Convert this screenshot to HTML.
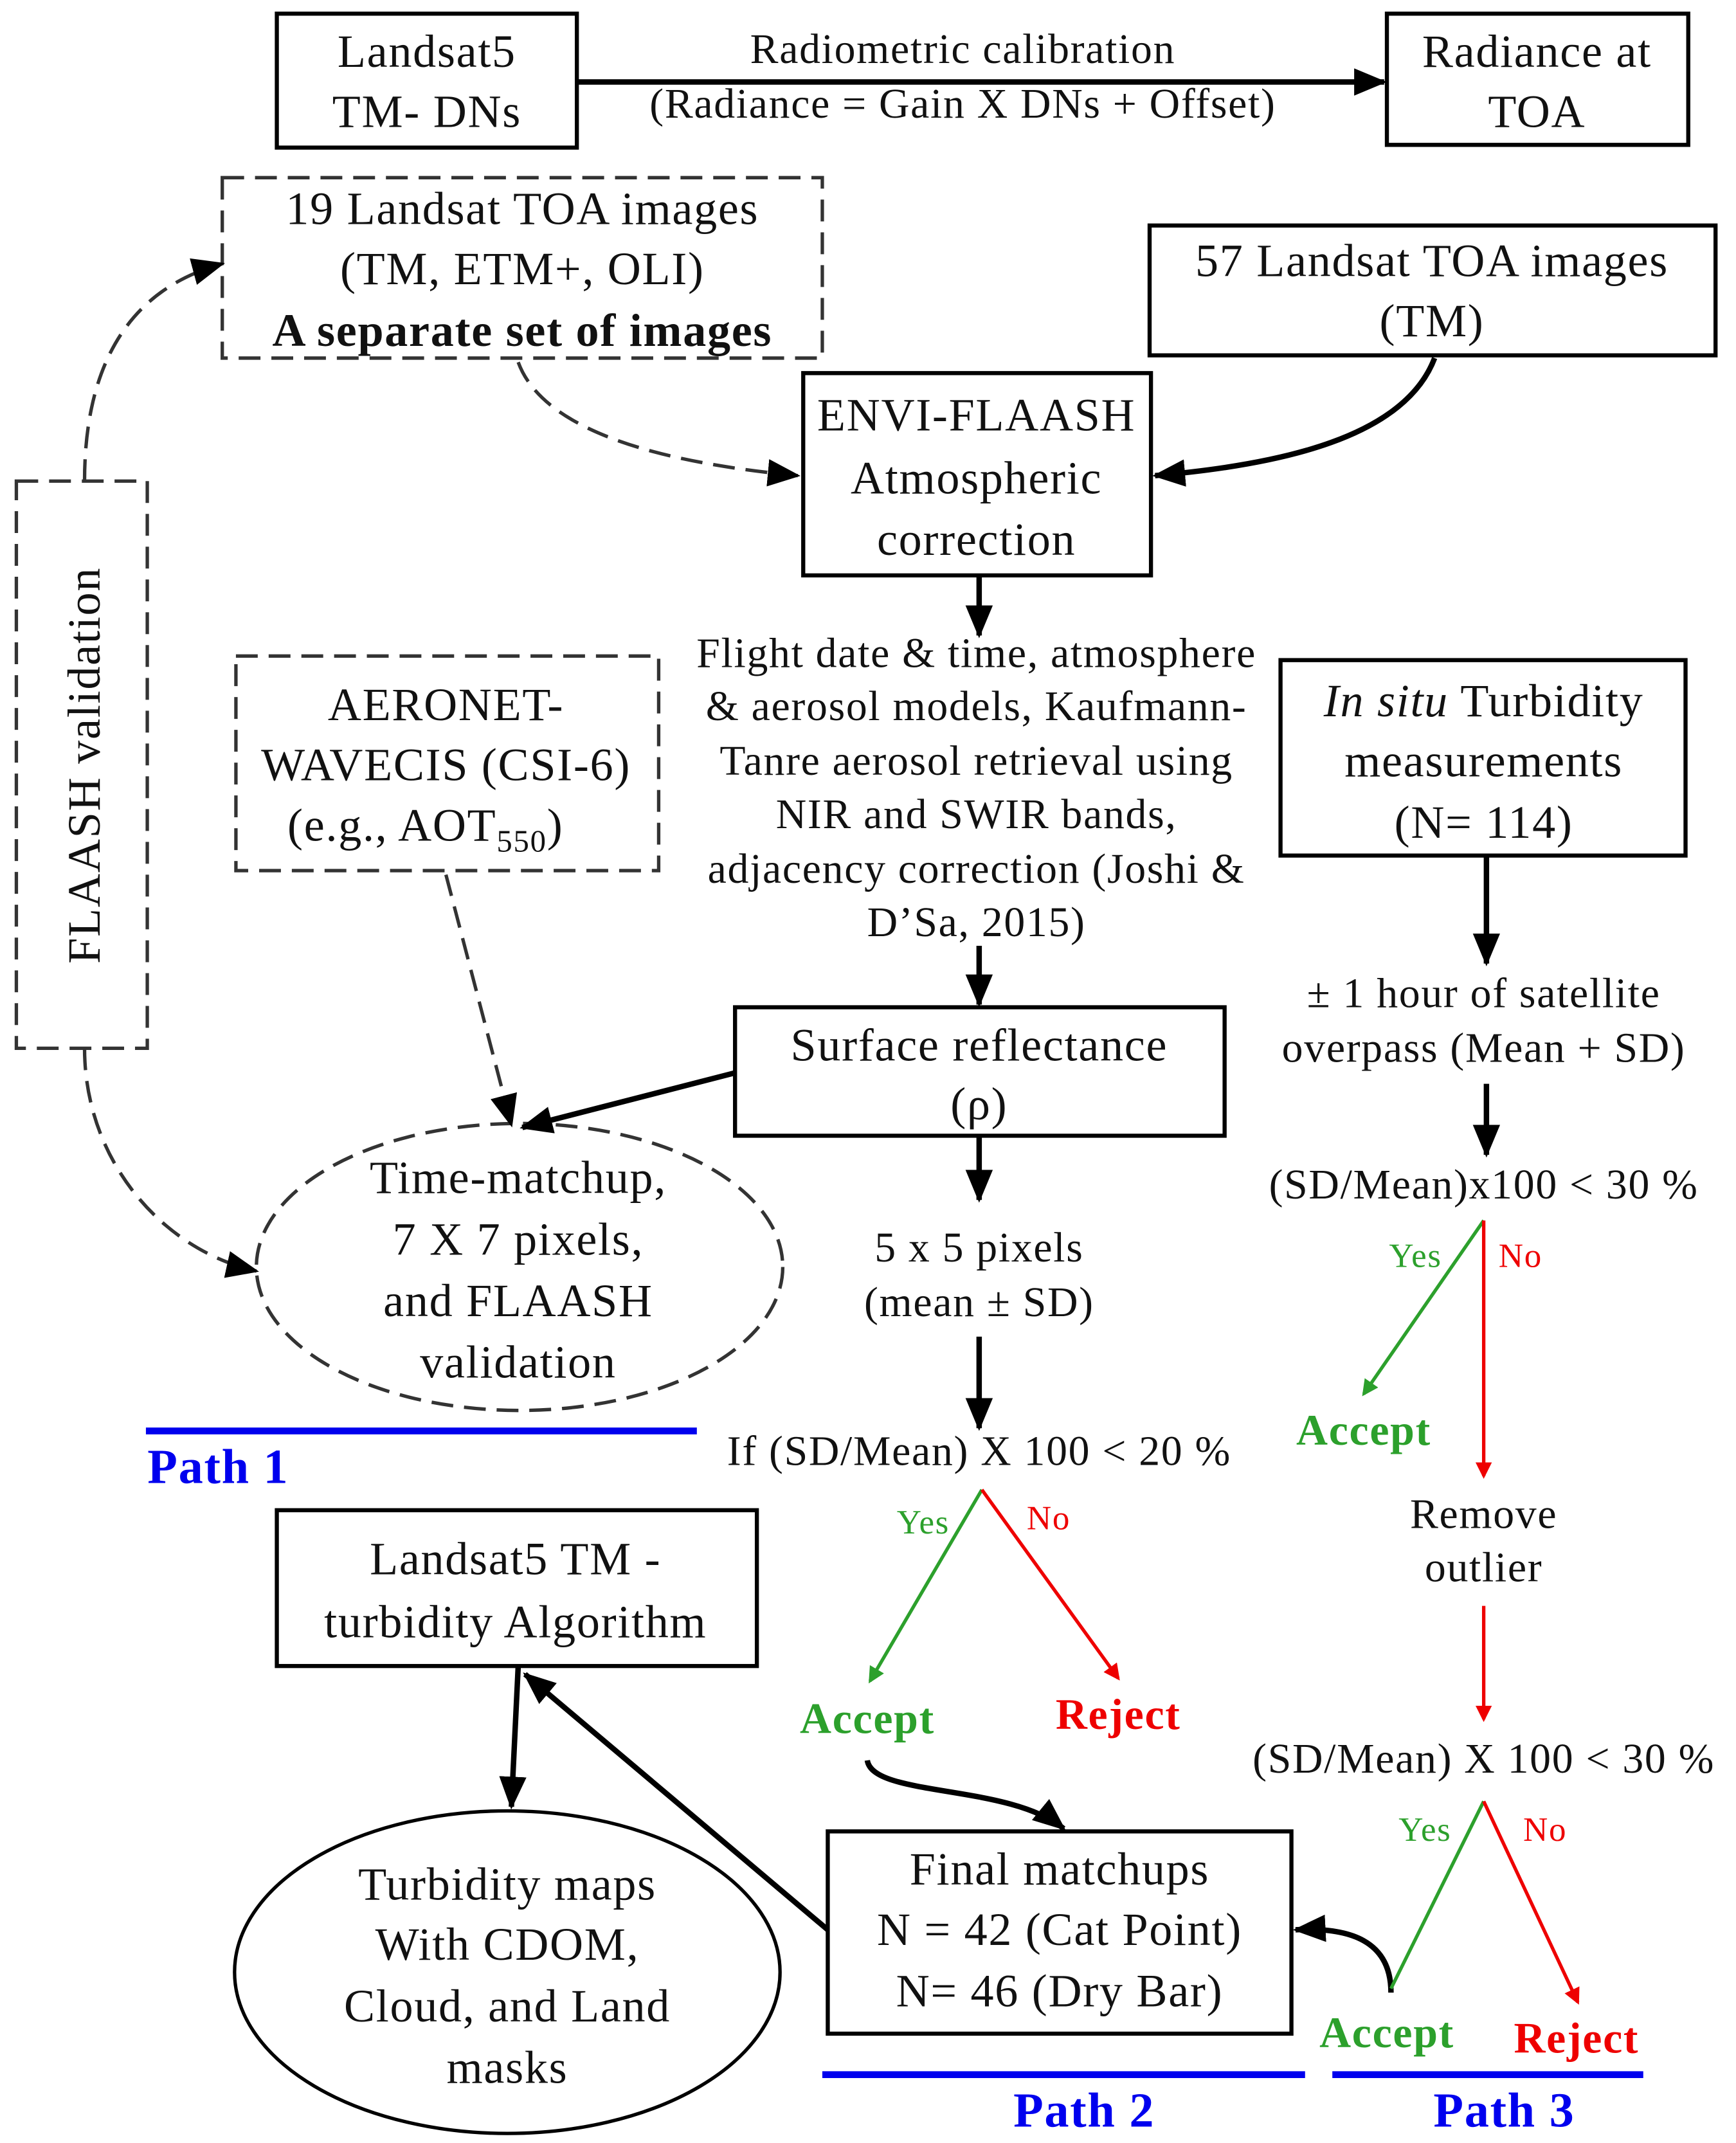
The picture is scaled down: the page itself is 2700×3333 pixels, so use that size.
<!DOCTYPE html>
<html><head><meta charset="utf-8"><style>
html,body{margin:0;padding:0;background:#fff;}
svg{display:block;}
text{font-family:"Liberation Serif",serif;fill:#111;letter-spacing:0.8px;}
</style></head><body>
<svg width="2700" height="3333" viewBox="0 0 1273 1568" preserveAspectRatio="none" xmlns="http://www.w3.org/2000/svg">
<defs>
<marker id="akb" markerWidth="24" markerHeight="20" refX="22" refY="10" orient="auto" markerUnits="userSpaceOnUse"><path d="M0,0 L24,10 L0,20 z" fill="#000"/></marker>
<marker id="ag" markerWidth="12" markerHeight="12" refX="10" refY="6" orient="auto" markerUnits="userSpaceOnUse"><path d="M0,0 L12,6 L0,12 z" fill="#2ca02c"/></marker>
<marker id="ar" markerWidth="12" markerHeight="12" refX="10" refY="6" orient="auto" markerUnits="userSpaceOnUse"><path d="M0,0 L12,6 L0,12 z" fill="#e00"/></marker>
</defs>
<g fill="none" stroke="#000" stroke-width="3">
<rect x="203" y="10" width="220" height="98"/>
<rect x="1017" y="10" width="221" height="96"/>
<rect x="843" y="165" width="415" height="95"/>
<rect x="589" y="273" width="255" height="148"/>
<rect x="539" y="737" width="359" height="94"/>
<rect x="607" y="1340" width="340" height="148"/>
<rect x="939" y="483" width="297" height="143"/>
<rect x="203" y="1105" width="352" height="114"/>
<ellipse cx="372" cy="1443" rx="200" ry="118" stroke-width="2.5"/>
</g>
<g fill="none" stroke="#333" stroke-width="2.5" stroke-dasharray="16,8">
<rect x="163" y="130" width="440" height="132"/>
<rect x="173" y="480" width="310" height="157"/>
<rect x="12" y="352" width="96" height="415"/>
<ellipse cx="381" cy="927" rx="193" ry="105"/>
<path d="M380,265 C400,320 500,340 585,348" marker-end="url(#akb)"/>
<path d="M327,640 L375,823" marker-end="url(#akb)"/>
<path d="M62,352 C62,260 100,210 163,193" marker-end="url(#akb)"/>
<path d="M62,767 C62,850 120,915 188,930" marker-end="url(#akb)"/>
</g>
<g fill="none" stroke="#000" stroke-width="4">
<line x1="423" y1="60" x2="1015" y2="60" marker-end="url(#akb)"/>
<path d="M1052,262 C1030,320 940,340 847,348" marker-end="url(#akb)"/>
<line x1="718" y1="421" x2="718" y2="465" marker-end="url(#akb)"/>
<line x1="718" y1="692" x2="718" y2="735" marker-end="url(#akb)"/>
<line x1="539" y1="785" x2="383" y2="825" marker-end="url(#akb)"/>
<line x1="718" y1="831" x2="718" y2="878" marker-end="url(#akb)"/>
<line x1="718" y1="978" x2="718" y2="1045" marker-end="url(#akb)"/>
<path d="M636,1288 C640,1315 740,1305 780,1338" marker-end="url(#akb)"/>
<line x1="380" y1="1219" x2="375" y2="1322" marker-end="url(#akb)"/>
<line x1="607" y1="1412" x2="385" y2="1225" marker-end="url(#akb)"/>
<line x1="1090" y1="626" x2="1090" y2="705" marker-end="url(#akb)"/>
<line x1="1090" y1="793" x2="1090" y2="845" marker-end="url(#akb)"/>
<path d="M1020,1458 C1020,1420 990,1410 950,1412" marker-end="url(#akb)"/>
</g>
<g fill="none" stroke-width="2.5">
<line x1="720" y1="1090" x2="638" y2="1230" stroke="#2ca02c" marker-end="url(#ag)"/>
<line x1="720" y1="1090" x2="820" y2="1228" stroke="#e00" marker-end="url(#ar)"/>
<line x1="1088" y1="893" x2="1000" y2="1020" stroke="#2ca02c" marker-end="url(#ag)"/>
<line x1="1088" y1="893" x2="1088" y2="1080" stroke="#e00" marker-end="url(#ar)"/>
<line x1="1088" y1="1175" x2="1088" y2="1258" stroke="#e00" marker-end="url(#ar)"/>
<line x1="1088" y1="1318" x2="1020" y2="1455" stroke="#2ca02c"/>
<line x1="1088" y1="1318" x2="1157" y2="1465" stroke="#e00" marker-end="url(#ar)"/>
</g>
<g stroke="#0000ee" stroke-width="5">
<line x1="107" y1="1047" x2="511" y2="1047"/>
<line x1="603" y1="1518" x2="957" y2="1518"/>
<line x1="977" y1="1518" x2="1205" y2="1518"/>
</g>
<g text-anchor="middle" font-size="34">
<text x="313" y="49">Landsat5</text><text x="313" y="93">TM- DNs</text>
<text x="1127" y="49">Radiance at</text><text x="1127" y="93">TOA</text>
<text x="706" y="46" font-size="31">Radiometric calibration</text>
<text x="706" y="86" font-size="31">(Radiance = Gain X DNs + Offset)</text>
<text x="383" y="164">19 Landsat TOA images</text>
<text x="383" y="208">(TM, ETM+, OLI)</text>
<text x="383" y="253" font-weight="bold">A separate set of images</text>
<text x="1050" y="202">57 Landsat TOA images</text>
<text x="1050" y="246">(TM)</text>
<text x="716" y="315">ENVI-FLAASH</text><text x="716" y="361">Atmospheric</text><text x="716" y="406">correction</text>
<g font-size="31">
<text x="716" y="488">Flight date &amp; time, atmosphere</text>
<text x="716" y="527">&amp; aerosol models, Kaufmann-</text>
<text x="716" y="567">Tanre aerosol retrieval using</text>
<text x="716" y="606">NIR and SWIR bands,</text>
<text x="716" y="646">adjacency correction (Joshi &amp;</text>
<text x="716" y="685">D’Sa, 2015)</text>
</g>
<text x="718" y="776">Surface reflectance</text><text x="718" y="819">(ρ)</text>
<text x="718" y="923" font-size="31">5 x 5 pixels</text>
<text x="718" y="963" font-size="31">(mean ± SD)</text>
<text x="718" y="1072" font-size="31">If (SD/Mean) X 100 &lt; 20 %</text>
<text x="677" y="1122" font-size="25" style="fill:#2ca02c">Yes</text>
<text x="769" y="1119" font-size="25" style="fill:#e00">No</text>
<text x="636" y="1268" font-weight="bold" font-size="32" style="fill:#2ca02c">Accept</text>
<text x="820" y="1265" font-weight="bold" font-size="32" style="fill:#e00">Reject</text>
<text x="777" y="1379">Final matchups</text><text x="777" y="1423">N = 42 (Cat Point)</text><text x="777" y="1468">N= 46 (Dry Bar)</text>
<text x="795" y="1556" font-weight="bold" font-size="36" style="fill:#0000ee">Path 2</text>
<text x="327" y="527">AERONET-</text><text x="327" y="571">WAVECIS (CSI-6)</text>
<text x="312" y="615">(e.g., AOT<tspan font-size="23" dy="8">550</tspan><tspan dy="-8">)</tspan></text>
<text x="380" y="873">Time-matchup,</text><text x="380" y="918">7 X 7 pixels,</text><text x="380" y="963">and FLAASH</text><text x="380" y="1008">validation</text>
<text x="160" y="1085" font-weight="bold" font-size="36" style="fill:#0000ee">Path 1</text>
<text x="0" y="0" transform="translate(73,560) rotate(-90)">FLAASH validation</text>
<text x="378" y="1152">Landsat5 TM -</text><text x="378" y="1198">turbidity Algorithm</text>
<text x="372" y="1390">Turbidity maps</text><text x="372" y="1434">With CDOM,</text><text x="372" y="1479">Cloud, and Land</text><text x="372" y="1524">masks</text>
<text x="1088" y="524"><tspan font-style="italic">In situ</tspan> Turbidity</text>
<text x="1088" y="568">measurements</text><text x="1088" y="613">(N= 114)</text>
<text x="1088" y="737" font-size="31">± 1 hour of satellite</text>
<text x="1088" y="777" font-size="31">overpass (Mean + SD)</text>
<text x="1088" y="877" font-size="31">(SD/Mean)x100 &lt; 30 %</text>
<text x="1038" y="927" font-size="25" style="fill:#2ca02c">Yes</text>
<text x="1115" y="927" font-size="25" style="fill:#e00">No</text>
<text x="1000" y="1057" font-weight="bold" font-size="32" style="fill:#2ca02c">Accept</text>
<text x="1088" y="1118" font-size="31">Remove</text><text x="1088" y="1157" font-size="31">outlier</text>
<text x="1088" y="1297" font-size="31">(SD/Mean) X 100 &lt; 30 %</text>
<text x="1045" y="1347" font-size="25" style="fill:#2ca02c">Yes</text>
<text x="1133" y="1347" font-size="25" style="fill:#e00">No</text>
<text x="1017" y="1498" font-weight="bold" font-size="32" style="fill:#2ca02c">Accept</text>
<text x="1156" y="1502" font-weight="bold" font-size="32" style="fill:#e00">Reject</text>
<text x="1103" y="1556" font-weight="bold" font-size="36" style="fill:#0000ee">Path 3</text>
</g>
</svg>
</body></html>
